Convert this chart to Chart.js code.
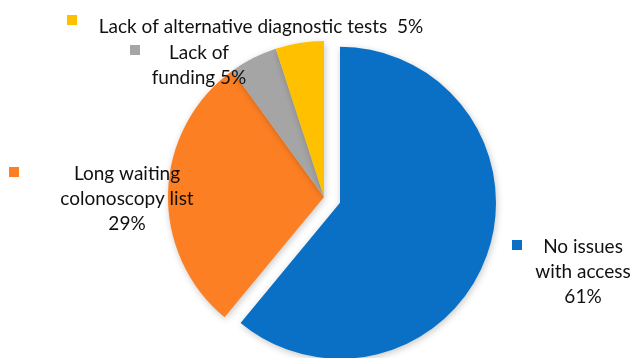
<!DOCTYPE html>
<html>
<head>
<meta charset="utf-8">
<script src="https://cdn.jsdelivr.net/npm/chart.js@4"></script>
<style>
  html, body { margin: 0; padding: 0; background: #ffffff; }
  #wrap { width: 632px; height: 358px; position: relative; }
</style>
</head>
<body>
<div id="wrap"><canvas id="c" width="632" height="358"></canvas></div>
<script>
// Access to colonoscopy: reported barriers
const categories = ['No issues with access', 'Long waiting colonoscopy list', 'Lack of funding', 'Lack of alternative diagnostic tests'];
const shares = [61, 29, 5, 5];
const sliceColors = ['#0A70C6', '#FD7F23', '#A5A5A5', '#FFC000'];
// How far each slice is pulled out from the centre, in pixels
const explode = [17, 0, 0, 0];
// Label text, split into lines, for each slice (value appended from shares)
const labelLines = [
  ['No issues', 'with access', '{v}%'],
  ['Long waiting', 'colonoscopy list', '{v}%'],
  ['Lack of', 'funding {v}%'],
  ['Lack of alternative diagnostic tests  {v}%']
];

// Callout placement: marker square and text block centre
const callouts = [
  { mx: 517, my: 245, tx: 583, ty: 247 },
  { mx: 14,  my: 172, tx: 127, ty: 174 },
  { mx: 135, my: 50,  tx: 199, ty: 53 },
  { mx: 72,  my: 20,  tx: 261, ty: 27 }
];

// Pull exploded slices outward along their bisector, keeping their radius
const explodePlugin = {
  id: 'explodeSlices',
  afterDatasetsUpdate(chart) {
    const meta = chart.getDatasetMeta(0);
    meta.data.forEach((arc, i) => {
      const d = explode[i] || 0;
      if (!d) return;
      const mid = (arc.startAngle + arc.endAngle) / 2;
      arc.x += Math.cos(mid) * d;
      arc.y += Math.sin(mid) * d;
    });
  }
};

const shadowPlugin = {
  id: 'softShadow',
  beforeDatasetsDraw(chart) {
    const ctx = chart.ctx;
    ctx.save();
    ctx.shadowColor = 'rgba(0,0,0,0.22)';
    ctx.shadowBlur = 7;
    ctx.shadowOffsetX = 1;
    ctx.shadowOffsetY = 2;
  },
  afterDatasetsDraw(chart) {
    chart.ctx.restore();
  }
};

const calloutPlugin = {
  id: 'callouts',
  afterDraw(chart) {
    const ctx = chart.ctx;
    const ds = chart.data.datasets[0];
    ctx.save();
    ctx.font = '19px Lato, "Open Sans", sans-serif';
    ctx.textAlign = 'center';
    ctx.textBaseline = 'middle';
    const lh = 25;
    callouts.forEach((c, i) => {
      ctx.fillStyle = ds.backgroundColor[i];
      ctx.fillRect(c.mx - 5, c.my - 5, 10, 10);
      ctx.fillStyle = '#111111';
      labelLines[i].forEach((ln, k) => {
        ctx.fillText(ln.replace('{v}', ds.data[i]), c.tx, c.ty + k * lh);
      });
    });
    ctx.restore();
  }
};

new Chart(document.getElementById('c'), {
  type: 'pie',
  data: {
    labels: categories,
    datasets: [{
      data: shares,
      backgroundColor: sliceColors,
      borderWidth: 0,
      clip: false
    }]
  },
  options: {
    responsive: false,
    animation: false,
    radius: 156,
    layout: { padding: { left: 16, right: 0, top: 36, bottom: 0 } },
    plugins: {
      legend: { display: false },
      tooltip: { enabled: false }
    }
  },
  plugins: [explodePlugin, shadowPlugin, calloutPlugin]
});
</script>
</body>
</html>
